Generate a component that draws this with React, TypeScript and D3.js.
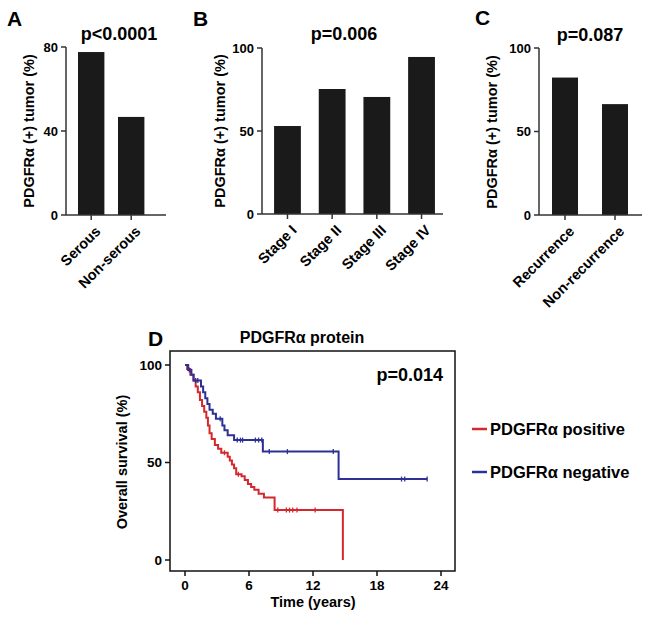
import React from "react";
import * as d3 from "d3";

const serousCats = ["Serous", "Non-serous"];
const serousValues = [77.6, 46.7];
const serousTicks = [0, 40, 80];

const stageCats = ["Stage I", "Stage II", "Stage III", "Stage IV"];
const stageValues = [53, 75.3, 70.5, 94.6];
const stageTicks = [0, 50, 100];

const recurCats = ["Recurrence", "Non-recurrence"];
const recurValues = [82.3, 66.4];
const recurTicks = [0, 50, 100];

// Kaplan-Meier steps: time (years), survival (%) after that time
const redTimes = [0, 0.2, 0.5, 0.8, 1.0, 1.2, 1.4, 1.6, 1.8, 2.0, 2.15, 2.3, 2.5, 2.8, 3.1, 3.4, 4.0, 4.2, 4.4, 4.6, 4.8, 5.3, 5.6, 5.9, 6.2, 6.5, 6.9, 7.4, 8.4, 14.8];
const redSurv = [100, 98, 95, 92, 89, 86, 82, 79, 76, 73, 69, 65, 62, 59, 57, 55, 53, 51, 49, 47, 44, 43, 41, 39, 37.5, 36, 34, 32, 25.6, 0];
const redCensor = [3.7, 5.0, 8.7, 9.5, 9.8, 10.1, 10.5, 12.2];
const redEnd = 14.8;

const blueTimes = [0, 0.3, 0.6, 0.8, 1.5, 1.7, 1.9, 2.1, 2.3, 2.6, 2.9, 3.5, 3.7, 4.0, 4.6, 7.3, 14.4];
const blueSurv = [100, 97.5, 95, 92, 89, 86, 83, 80, 77, 75, 72.5, 69, 66.5, 64, 61.5, 55.6, 41.5];
const blueCensor = [0.4, 1.0, 1.2, 3.3, 4.9, 5.2, 5.4, 6.6, 6.9, 7.2, 7.9, 9.6, 13.9, 20.3, 20.6, 22.7];
const blueEnd = 22.7;

const timeTicks = [0, 6, 12, 18, 24];
const survTicks = [0, 50, 100];

const FONT = "'Liberation Sans', Arial, Helvetica, sans-serif";
const RED = "#d4282e";
const BLUE = "#2e3094";
const AXIS = "#333";

type BarProps = {
  letter: string; letterX: number; letterY: number;
  title: string; titleX: number; titleY: number;
  cats: string[]; values: number[]; ticks: number[];
  x0: number; x1: number; axisEnd: number; yBottom: number; yTop: number;
  pi: number; po: number; ylabX: number; ylabY: number;
};

function BarPanel(p: BarProps) {
  const yMax = p.ticks[p.ticks.length - 1];
  const y = d3.scaleLinear().domain([0, yMax]).range([p.yBottom, p.yTop]);
  const x = d3.scaleBand<string>().domain(p.cats).range([p.x0, p.x1]).paddingInner(p.pi).paddingOuter(p.po);
  return (
    <g fontFamily={FONT} fontWeight="bold">
      <text x={p.letterX} y={p.letterY} fontSize={21}>{p.letter}</text>
      <text x={p.titleX} y={p.titleY} fontSize={18} textAnchor="middle">{p.title}</text>
      {p.cats.map((c, i) => (
        <rect key={c} x={x(c)} y={y(p.values[i])} width={x.bandwidth()} height={y(0) - y(p.values[i])} fill="#1a1a1a" />
      ))}
      <line x1={p.x0} x2={p.x0} y1={y(yMax)} y2={y(0)} stroke={AXIS} strokeWidth={1.5} />
      <line x1={p.x0} x2={p.axisEnd} y1={y(0)} y2={y(0)} stroke={AXIS} strokeWidth={1.5} />
      {p.ticks.map((t) => (
        <g key={t}>
          <line x1={p.x0 - 5} x2={p.x0} y1={y(t)} y2={y(t)} stroke={AXIS} strokeWidth={1.5} />
          <text x={p.x0 - 8} y={y(t)} dy="0.36em" fontSize={13} textAnchor="end">{t}</text>
        </g>
      ))}
      {p.cats.map((c) => {
        const cx = (x(c) as number) + x.bandwidth() / 2;
        return (
          <g key={c}>
            <line x1={cx} x2={cx} y1={y(0)} y2={y(0) + 5} stroke={AXIS} strokeWidth={1.5} />
            <text transform={`translate(${cx + 3},${y(0) + 10}) rotate(-45)`} fontSize={14.5} textAnchor="end" dy="0.7em">{c}</text>
          </g>
        );
      })}
      <text transform={`translate(${p.ylabX},${p.ylabY}) rotate(-90)`} fontSize={14.5} textAnchor="middle">PDGFRα (+) tumor (%)</text>
    </g>
  );
}

function KM() {
  const x = d3.scaleLinear().domain([0, 24]).range([185, 441]);
  const y = d3.scaleLinear().domain([0, 100]).range([560, 365]);
  const line = d3.line<[number, number]>().x((d) => x(d[0])).y((d) => y(d[1])).curve(d3.curveStepAfter);
  const pts = (ts: number[], ss: number[], end: number): [number, number][] => {
    const a: [number, number][] = ts.map((t, i) => [t, ss[i]]);
    if (end > ts[ts.length - 1]) a.push([end, ss[ss.length - 1]]);
    return a;
  };
  const survAt = (ts: number[], ss: number[], t: number) => {
    let v = ss[0];
    for (let i = 0; i < ts.length; i++) if (ts[i] <= t) v = ss[i];
    return v;
  };
  const series = [
    { ts: redTimes, ss: redSurv, cs: redCensor, end: redEnd, color: RED },
    { ts: blueTimes, ss: blueSurv, cs: blueCensor, end: blueEnd, color: BLUE },
  ];
  return (
    <g fontFamily={FONT} fontWeight="bold">
      <text x={148} y={346} fontSize={21}>D</text>
      <text x={302} y={343} fontSize={16} textAnchor="middle">PDGFRα protein</text>
      {series.map((s, k) => (
        <g key={k}>
          <path d={line(pts(s.ts, s.ss, s.end)) || ""} fill="none" stroke={s.color} strokeWidth={2} />
          {s.cs.map((c, j) => {
            const v = survAt(s.ts, s.ss, c);
            return <line key={j} x1={x(c)} x2={x(c)} y1={y(v) - 2.5} y2={y(v) + 2.5} stroke={s.color} strokeWidth={1.3} />;
          })}
        </g>
      ))}
      <rect x={170} y={351} width={285} height={220} fill="none" stroke="#111" strokeWidth={1.5} />
      {timeTicks.map((t) => (
        <g key={t}>
          <line x1={x(t)} x2={x(t)} y1={571} y2={576} stroke="#111" strokeWidth={1.5} />
          <text x={x(t)} y={590} fontSize={13.5} textAnchor="middle">{t}</text>
        </g>
      ))}
      {survTicks.map((t) => (
        <g key={t}>
          <line x1={165} x2={170} y1={y(t)} y2={y(t)} stroke="#111" strokeWidth={1.5} />
          <text x={162} y={y(t)} dy="0.36em" fontSize={13.5} textAnchor="end">{t}</text>
        </g>
      ))}
      <text x={313} y={607} fontSize={14.5} textAnchor="middle">Time (years)</text>
      <text transform="translate(127,462) rotate(-90)" fontSize={14.5} textAnchor="middle">Overall survival (%)</text>
      <text x={443} y={381} fontSize={18} textAnchor="end">p=0.014</text>
      <line x1={472} x2={487} y1={429} y2={429} stroke={RED} strokeWidth={2.5} />
      <text x={490} y={429} dy="0.36em" fontSize={16.5}>PDGFRα positive</text>
      <line x1={472} x2={487} y1={472} y2={472} stroke={BLUE} strokeWidth={2.5} />
      <text x={490} y={472} dy="0.36em" fontSize={16.5}>PDGFRα negative</text>
    </g>
  );
}

export default function App() {
  return (
    <svg width={649} height={619} style={{ position: "absolute", left: 0, top: 0, background: "#fff" }}>
      <rect width={649} height={619} fill="#fff" />
      <BarPanel letter="A" letterX={7} letterY={26} title="p<0.0001" titleX={119} titleY={40}
        cats={serousCats} values={serousValues} ticks={serousTicks}
        x0={66} x1={156.4} axisEnd={166} yBottom={215} yTop={47} pi={0.34} po={0.3} ylabX={34} ylabY={131} />
      <BarPanel letter="B" letterX={193} letterY={26} title="p=0.006" titleX={344} titleY={40}
        cats={stageCats} values={stageValues} ticks={stageTicks}
        x0={262} x1={447} axisEnd={443} yBottom={214} yTop={48} pi={0.4} po={0.27} ylabX={225} ylabY={131} />
      <BarPanel letter="C" letterX={475} letterY={25} title="p=0.087" titleX={590} titleY={41}
        cats={recurCats} values={recurValues} ticks={recurTicks}
        x0={539} x1={641} axisEnd={642} yBottom={215} yTop={48} pi={0.48} po={0.26} ylabX={497} ylabY={132} />
      <KM />
    </svg>
  );
}
